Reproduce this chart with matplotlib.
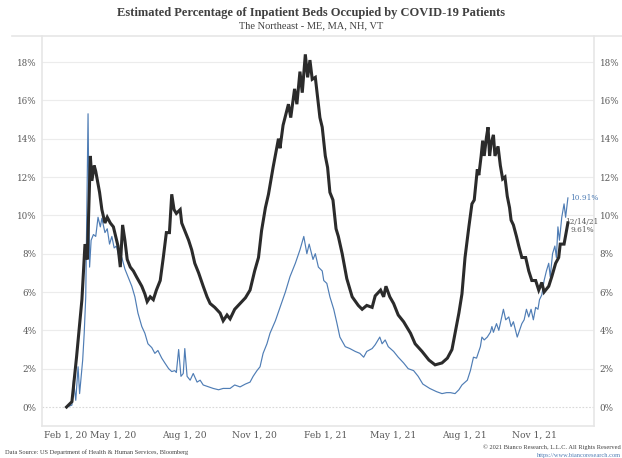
import matplotlib
matplotlib.use("Agg")
import matplotlib.pyplot as plt
import pandas as pd
from matplotlib.lines import Line2D

# ---- data (percent of inpatient beds) ----
total_dates = [
    "2020-03-01", "2020-03-08", "2020-03-14", "2020-03-21", "2020-03-25", "2020-03-28",
    "2020-04-01", "2020-04-03", "2020-04-06", "2020-04-08", "2020-04-13", "2020-04-16",
    "2020-04-20", "2020-04-23", "2020-04-27", "2020-05-01", "2020-05-04", "2020-05-07",
    "2020-05-10", "2020-05-13", "2020-05-16", "2020-05-19", "2020-05-23", "2020-05-27",
    "2020-05-31", "2020-06-07", "2020-06-11", "2020-06-14", "2020-06-18", "2020-06-22",
    "2020-06-26", "2020-07-01", "2020-07-05", "2020-07-09", "2020-07-13", "2020-07-16",
    "2020-07-19", "2020-07-22", "2020-07-27", "2020-07-29", "2020-08-02", "2020-08-07",
    "2020-08-11", "2020-08-15", "2020-08-20", "2020-08-26", "2020-08-31", "2020-09-04",
    "2020-09-10", "2020-09-17", "2020-09-21", "2020-09-26", "2020-09-30", "2020-10-06",
    "2020-10-13", "2020-10-20", "2020-10-26", "2020-11-01", "2020-11-06", "2020-11-10",
    "2020-11-15", "2020-11-19", "2020-11-25", "2020-12-02", "2020-12-04", "2020-12-08",
    "2020-12-15", "2020-12-18", "2020-12-23", "2020-12-26", "2020-12-30", "2021-01-02",
    "2021-01-06", "2021-01-09", "2021-01-12", "2021-01-15", "2021-01-19", "2021-01-21",
    "2021-01-25", "2021-01-28", "2021-02-01", "2021-02-04", "2021-02-07", "2021-02-11",
    "2021-02-15", "2021-02-18", "2021-02-23", "2021-03-01", "2021-03-08", "2021-03-16",
    "2021-03-21", "2021-03-27", "2021-04-03", "2021-04-07", "2021-04-14", "2021-04-18",
    "2021-04-21", "2021-04-26", "2021-05-01", "2021-05-07", "2021-05-14", "2021-05-23",
    "2021-05-29", "2021-06-07", "2021-06-16", "2021-06-24", "2021-07-03", "2021-07-10",
    "2021-07-16", "2021-07-20", "2021-07-25", "2021-07-29", "2021-08-02", "2021-08-07",
    "2021-08-11", "2021-08-14", "2021-08-18", "2021-08-20", "2021-08-23", "2021-08-25",
    "2021-08-27", "2021-08-30", "2021-09-01", "2021-09-03", "2021-09-05", "2021-09-08",
    "2021-09-10", "2021-09-14", "2021-09-17", "2021-09-20", "2021-09-23", "2021-09-26",
    "2021-09-29", "2021-10-01", "2021-10-04", "2021-10-08", "2021-10-11", "2021-10-15",
    "2021-10-20", "2021-10-24", "2021-10-28", "2021-11-02", "2021-11-06", "2021-11-10",
    "2021-11-13", "2021-11-19", "2021-11-23", "2021-11-28", "2021-12-02", "2021-12-04",
    "2021-12-09", "2021-12-14",
]
total_pct = [
    0.0, 0.28, 2.6, 5.6, 8.5, 7.7,
    13.1, 11.8, 12.6, 12.3, 11.2, 10.3,
    9.6, 9.9, 9.6, 9.4, 8.9, 8.4,
    7.3, 9.5, 8.7, 7.7, 7.3, 7.1,
    6.8, 6.3, 5.9, 5.5, 5.75, 5.6,
    6.1, 6.6, 7.8, 9.1, 9.1, 11.1,
    10.3, 10.1, 10.3, 9.6, 9.2, 8.7,
    8.2, 7.5, 7.0, 6.3, 5.75, 5.4,
    5.2, 4.9, 4.5, 4.8, 4.6, 5.1,
    5.4, 5.7, 6.1, 7.1, 7.8, 9.2,
    10.4, 11.1, 12.5, 14.0, 13.5, 14.7,
    15.8, 15.1, 16.6, 15.8, 17.5, 16.4,
    18.4, 17.2, 18.1, 17.1, 17.2, 16.5,
    15.1, 14.6, 13.1, 12.5, 11.2, 10.8,
    9.3, 8.9, 8.0, 6.7, 5.75, 5.3,
    5.1, 5.3, 5.2, 5.8, 6.1, 5.75,
    6.3, 5.75, 5.4, 4.8, 4.45, 3.85,
    3.3, 2.9, 2.45, 2.2, 2.3, 2.55,
    3.0, 3.85, 4.9, 5.9, 7.8, 9.4,
    10.6, 10.8, 12.4, 12.1, 13.1, 13.9,
    13.1, 14.1, 14.6, 13.1, 13.75, 14.2,
    13.1, 13.6, 12.6, 11.9, 12.0, 11.0,
    10.4, 9.75, 9.5, 8.9, 8.4, 7.8,
    7.8, 7.1, 6.6, 6.6, 6.1, 6.5,
    6.0, 6.3, 6.8, 7.5, 7.8, 8.5,
    8.5, 9.61,
]

icu_dates = [
    "2020-03-01", "2020-03-08", "2020-03-10", "2020-03-13", "2020-03-16", "2020-03-18",
    "2020-03-22", "2020-03-24", "2020-03-26", "2020-03-29", "2020-03-31", "2020-04-02",
    "2020-04-05", "2020-04-08", "2020-04-11", "2020-04-14", "2020-04-16", "2020-04-20",
    "2020-04-23", "2020-04-26", "2020-04-29", "2020-05-02", "2020-05-05", "2020-05-09",
    "2020-05-12", "2020-05-16", "2020-05-20", "2020-05-25", "2020-05-29", "2020-06-02",
    "2020-06-07", "2020-06-11", "2020-06-15", "2020-06-20", "2020-06-24", "2020-06-28",
    "2020-07-03", "2020-07-07", "2020-07-12", "2020-07-16", "2020-07-20", "2020-07-22",
    "2020-07-25", "2020-07-28", "2020-07-31", "2020-08-02", "2020-08-05", "2020-08-09",
    "2020-08-13", "2020-08-18", "2020-08-22", "2020-08-26", "2020-09-02", "2020-09-08",
    "2020-09-15", "2020-09-21", "2020-09-30", "2020-10-06", "2020-10-13", "2020-10-20",
    "2020-10-26", "2020-10-30", "2020-11-04", "2020-11-08", "2020-11-12", "2020-11-17",
    "2020-11-21", "2020-11-28", "2020-12-04", "2020-12-11", "2020-12-17", "2020-12-24",
    "2020-12-30", "2021-01-04", "2021-01-08", "2021-01-11", "2021-01-16", "2021-01-19",
    "2021-01-23", "2021-01-28", "2021-01-30", "2021-02-03", "2021-02-07", "2021-02-12",
    "2021-02-16", "2021-02-20", "2021-02-27", "2021-03-05", "2021-03-12", "2021-03-18",
    "2021-03-23", "2021-03-27", "2021-04-03", "2021-04-07", "2021-04-13", "2021-04-16",
    "2021-04-20", "2021-04-24", "2021-05-01", "2021-05-07", "2021-05-14", "2021-05-20",
    "2021-05-27", "2021-06-02", "2021-06-08", "2021-06-17", "2021-06-26", "2021-07-03",
    "2021-07-09", "2021-07-14", "2021-07-20", "2021-07-25", "2021-07-29", "2021-08-05",
    "2021-08-09", "2021-08-13", "2021-08-17", "2021-08-22", "2021-08-24", "2021-08-27",
    "2021-08-31", "2021-09-04", "2021-09-06", "2021-09-08", "2021-09-12", "2021-09-15",
    "2021-09-18", "2021-09-21", "2021-09-24", "2021-09-28", "2021-10-01", "2021-10-04",
    "2021-10-09", "2021-10-12", "2021-10-15", "2021-10-18", "2021-10-21", "2021-10-24",
    "2021-10-27", "2021-10-30", "2021-11-02", "2021-11-05", "2021-11-07", "2021-11-10",
    "2021-11-13", "2021-11-16", "2021-11-19", "2021-11-21", "2021-11-24", "2021-11-27",
    "2021-11-29", "2021-12-01", "2021-12-03", "2021-12-06", "2021-12-09", "2021-12-11",
    "2021-12-14",
]
icu_pct = [
    0.0, 0.1, 1.4, 0.35, 2.1, 0.7,
    2.45, 3.85, 5.75, 15.3, 7.3, 8.7,
    9.0, 8.9, 9.9, 9.4, 9.85, 9.1,
    9.3, 8.5, 8.9, 8.3, 8.4, 7.7,
    7.8, 7.2, 6.8, 6.3, 5.75, 4.9,
    4.2, 3.85, 3.3, 3.1, 2.8, 2.95,
    2.55, 2.3, 2.0, 1.85, 1.9, 1.8,
    3.0, 1.6, 1.75, 3.05, 1.6, 1.4,
    1.75, 1.3, 1.4, 1.15, 1.05, 0.97,
    0.9, 0.97, 0.97, 1.15, 1.05, 1.2,
    1.3, 1.6, 1.9, 2.1, 2.8, 3.3,
    3.85, 4.5, 5.2, 6.0, 6.8, 7.5,
    8.2, 8.9, 8.0, 8.5, 7.7, 8.0,
    7.3, 7.1, 6.6, 6.45, 5.75, 5.1,
    4.4, 3.65, 3.15, 3.05, 2.9, 2.8,
    2.6, 2.9, 3.05, 3.25, 3.65, 3.3,
    3.5, 3.15, 2.9, 2.6, 2.3, 2.0,
    1.9, 1.6, 1.2, 0.97, 0.8, 0.7,
    0.75, 0.75, 0.7, 0.9, 1.15, 1.4,
    1.9, 2.6, 2.55, 3.15, 3.65, 3.5,
    3.65, 3.9, 4.2, 3.9, 4.35, 4.0,
    4.55, 5.1, 4.55, 4.7, 4.2, 4.45,
    3.65, 4.0, 4.35, 4.55, 5.1, 4.7,
    5.1, 4.55, 5.2, 5.1, 5.6, 5.85,
    6.6, 7.1, 7.5, 6.8, 8.0, 8.4,
    7.8, 9.4, 8.7, 9.9, 10.6, 9.9,
    10.91,
]

tick_dates = ["2020-02-01", "2020-05-01", "2020-08-01", "2020-11-01",
              "2021-02-01", "2021-05-01", "2021-08-01", "2021-11-01"]
tick_labels = ["Feb 1, 20", "May 1, 20", "Aug 1, 20", "Nov 1, 20",
               "Feb 1, 21", "May 1, 21", "Aug 1, 21", "Nov 1, 21"]
y_ticks = [0, 2, 4, 6, 8, 10, 12, 14, 16, 18]

BLACK = "#2b2b2b"
BLUE = "#4f7db5"
GREY = "#595959"
SERIF = ["DejaVu Serif"]
TITLE_FONT = ["Liberation Serif", "DejaVu Serif"]

t_total = pd.to_datetime(total_dates)
t_icu = pd.to_datetime(icu_dates)

fig = plt.figure(figsize=(6.22, 4.58), dpi=100)
ax = fig.add_axes([0.0675, 0.0705, 0.8875, 0.851])

ax.plot(t_icu, icu_pct, color=BLUE, lw=0.85, zorder=3)
ax.plot(t_total, total_pct, color=BLACK, lw=2.2, zorder=4, solid_joinstyle="miter")

ax.set_xlim(pd.Timestamp("2020-01-29"), pd.Timestamp("2022-01-17"))
ax.set_ylim(-0.975, 19.36)

ax.set_xticks(pd.to_datetime(tick_dates))
ax.set_xticklabels(tick_labels)
ax.set_yticks(y_ticks)
ax.set_yticklabels([f"{v}%" for v in y_ticks])
ax.tick_params(axis="both", length=0, labelsize=6.3, labelcolor=GREY, pad=4)
ax.tick_params(axis="x", pad=3.5)
for lab in ax.get_xticklabels():
    lab.set_family(SERIF)
    lab.set_fontsize(6.6)
for lab in ax.get_yticklabels():
    lab.set_family(SERIF)
ax.get_xticklabels()[0].set_horizontalalignment("left")

for v in y_ticks:
    ax.axhline(v, color="#ececec" if v else "#d8d8d8", lw=0.8,
               ls="-" if v else (0, (1.5, 1.5)), zorder=1)

for side in ("left", "right", "bottom"):
    ax.spines[side].set_color("#e6e6e6")
    ax.spines[side].set_linewidth(1.2)
ax.spines["top"].set_visible(False)

ax2 = ax.twinx()
ax2.set_ylim(ax.get_ylim())
ax2.set_yticks(y_ticks)
ax2.set_yticklabels([f"{v}%" for v in y_ticks], family=SERIF)
ax2.tick_params(axis="y", length=0, labelsize=6.3, labelcolor=GREY, pad=4)
for side in ("left", "right", "bottom", "top"):
    ax2.spines[side].set_visible(False)

# end-of-series labels
ax.annotate(f"{icu_pct[-1]:.2f}%", (t_icu[-1], icu_pct[-1]), xytext=(2, 0),
            textcoords="offset pixels", ha="left", va="center",
            fontsize=5.3, color=BLUE, family=SERIF)
end = t_total[-1]
ax.annotate(f"{end.month}/{end.day}/{end:%y}\n{total_pct[-1]:.2f}%",
            (end, total_pct[-1]), xytext=(14, -3), textcoords="offset pixels",
            ha="center", va="center", fontsize=5.3, color=GREY, family=SERIF,
            linespacing=1.1)

# header / footer
fig.text(0.5, 0.971, "Estimated Percentage of Inpatient Beds Occupied by COVID-19 Patients",
         ha="center", va="center", fontsize=9, fontweight="bold", color="#404040",
         family=TITLE_FONT)
fig.text(0.5, 0.943, "The Northeast - ME, MA, NH, VT", ha="center", va="center",
         fontsize=7.5, color="#404040", family=TITLE_FONT)
fig.add_artist(Line2D([0.02, 1.0], [0.921, 0.921], color="#e6e6e6", lw=1.2,
                      transform=fig.transFigure))

fig.text(0.008, 0.013, "Data Source: US Department of Health & Human Services, Bloomberg",
         ha="left", va="center", fontsize=4.6, color="#404040", family=TITLE_FONT)
fig.text(0.998, 0.024, "\u00a9 2021 Bianco Research, L.L.C. All Rights Reserved",
         ha="right", va="center", fontsize=4.6, color="#404040", family=TITLE_FONT)
fig.text(0.998, 0.006, "https://www.biancoresearch.com", ha="right", va="center",
         fontsize=4.6, color=BLUE, family=TITLE_FONT)

fig.savefig("out.png", dpi=100)
